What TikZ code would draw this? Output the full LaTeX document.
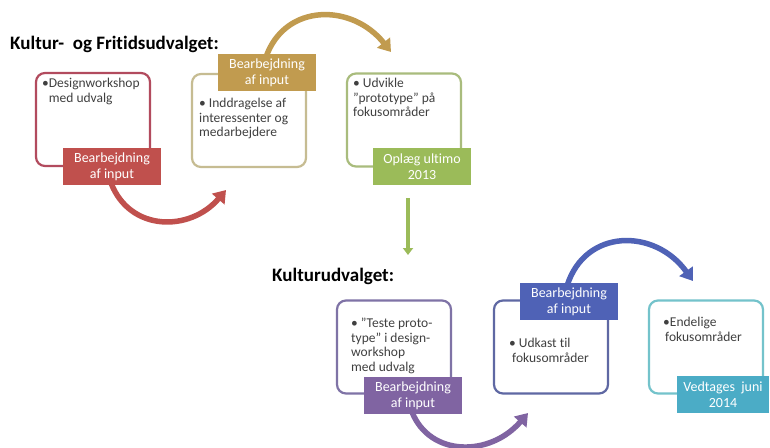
\documentclass[tikz,border=0pt]{standalone}
\usepackage{fontspec}
\setmainfont{Carlito}[Ligatures=NoCommon]
\usetikzlibrary{arrows.meta}
\definecolor{redL}{HTML}{C0504D}
\definecolor{redB}{HTML}{B24B5E}
\definecolor{goldL}{HTML}{C19B4F}
\definecolor{goldB}{HTML}{C6BC92}
\definecolor{greenL}{HTML}{9BBB59}
\definecolor{greenB}{HTML}{A9BC7D}
\definecolor{purpL}{HTML}{8064A2}
\definecolor{purpB}{HTML}{7F73A6}
\definecolor{blueL}{HTML}{4F62B6}
\definecolor{blueB}{HTML}{5F68A3}
\definecolor{tealL}{HTML}{4BACC6}
\definecolor{tealB}{HTML}{74C3CB}
\definecolor{txt}{HTML}{404040}
\begin{document}
\begin{tikzpicture}[x=1pt,y=-1pt,
  box/.style={draw=#1, rounded corners=9pt, line width=2.2pt, fill=white,
    minimum width=114pt, minimum height=93pt, inner sep=0pt},
  lab/.style={fill=#1, text=white, minimum width=98pt, minimum height=37pt,
    inner sep=0pt, align=center, font=\fontsize{14}{16}\selectfont},
  body/.style={anchor=north west, inner sep=0pt, align=left, text=txt,
    font=\fontsize{13.5}{14.5}\selectfont},
  ttl/.style={anchor=base west, inner sep=0pt, text=black,
    font=\bfseries\fontsize{19}{21}\selectfont},
  flow/.style={draw=#1, line width=5.5pt, -{Triangle[length=12pt,width=16pt]}},
  down/.style={draw=#1, line width=4.5pt, -{Triangle[length=7pt,width=10pt]}}
]
\useasboundingbox (0,0) rectangle (770,447);
\fill[white] (0,0) rectangle (770,447);

% arrow end points
\coordinate (rs) at (111,183);
\coordinate (re) at (226,190);
\coordinate (gs) at (266,57);
\coordinate (ge) at (391,52);
\coordinate (ds) at (408,198);
\coordinate (de) at (408,255);
\coordinate (ps) at (412,412);
\coordinate (pe) at (528,413);
\coordinate (bs) at (567,286);
\coordinate (be) at (693,281);

% arrows (behind the labels)
\draw[flow=redL] (rs) .. controls (130,232) and (190,232) .. (re);
\draw[flow=goldL] (gs) .. controls (285,3) and (352,3) .. (ge);
\draw[down=greenL] (ds) -- (de);
\draw[flow=purpL] (ps) .. controls (430,457) and (490,457) .. (pe);
\draw[flow=blueL] (bs) .. controls (585,228) and (655,228) .. (be);

% titles
\node[ttl] (t1) at (10,49) {Kultur- \ og Fritidsudvalget:};
\node[ttl] (t2) at (272,281) {Kulturudvalget:};

% boxes
\node[box=redB]   (b1) at (93,119.5) {};
\node[box=goldB]  (b2) at (249,120.5) {};
\node[box=greenB] (b3) at (404,120) {};
\node[box=purpB]  (b4) at (394,347) {};
\node[box=blueB]  (b5) at (551,347) {};
\node[box=tealB]  (b6) at (706,347) {};

% box texts
\node[body] (x1) at (42,78) {•Designworkshop\\\hphantom{•}med udvalg};
\node[body] (x2) at (199,98) {• Inddragelse af\\interessenter og\\medarbejdere};
\node[body] (x3) at (353,78) {• Udvikle\\”prototype” på\\fokusområder};
\node[body] (x4) at (351,318) {• ”Teste proto-\\type” i design-\\workshop\\med udvalg};
\node[body] (x5) at (509,338) {• Udkast til\\\hspace*{3pt}fokusområder};
\node[body] (x6) at (663,317) {•Endelige\\\hspace*{2pt}fokusområder};

% labels
\node[lab=redL]   (l1) at (112,166.5) {Bearbejdning\\af input};
\node[lab=goldL]  (l2) at (267,72.5) {Bearbejdning\\af input};
\node[lab=greenL] (l3) at (422,166.5) {Oplæg ultimo\\2013};
\node[lab=purpL]  (l4) at (413,395.5) {Bearbejdning\\af input};
\node[lab=blueL]  (l5) at (569,301.5) {Bearbejdning\\af input};
\node[lab=tealL, minimum width=92pt] (l6) at (723,394.5) {Vedtages \ juni\\2014};
\end{tikzpicture}
\end{document}
